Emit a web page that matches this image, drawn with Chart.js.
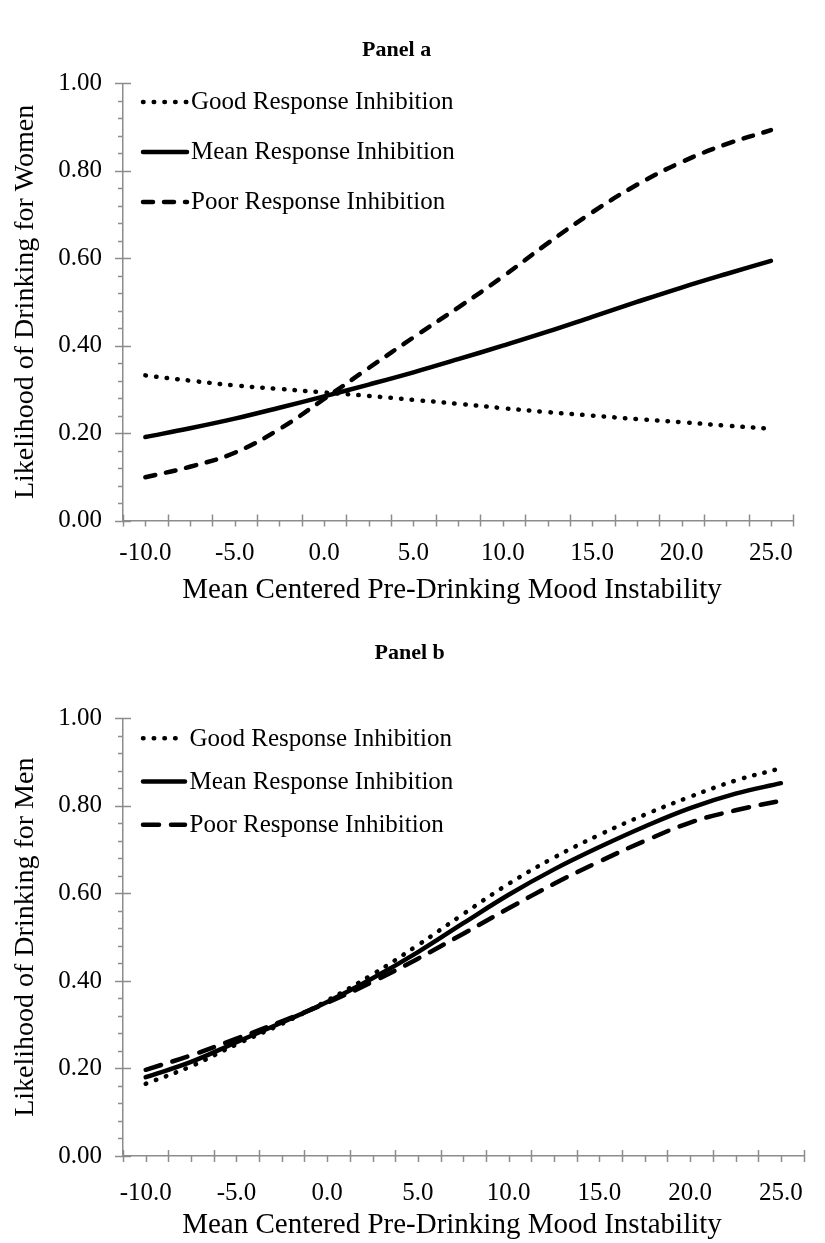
<!DOCTYPE html>
<html>
<head>
<meta charset="utf-8">
<script src="https://cdn.jsdelivr.net/npm/chart.js@4.4.1/dist/chart.umd.min.js"></script>
<style>
  html, body { margin: 0; padding: 0; background: #fff; }
  canvas { display: block; }
</style>
</head>
<body>
<canvas id="panelA" width="825" height="620"></canvas>
<canvas id="panelB" width="825" height="623"></canvas>
<script>
// ---- data ----
const seriesLabels = ['Good Response Inhibition', 'Mean Response Inhibition', 'Poor Response Inhibition'];
const xValues = [-10, -7.5, -5, -2.5, 0, 2.5, 5, 7.5, 10, 12.5, 15, 17.5, 20, 22.5, 25];

const womenGood = [0.332, 0.320, 0.309, 0.301, 0.293, 0.285, 0.276, 0.267, 0.257, 0.248, 0.240, 0.232, 0.225, 0.217, 0.210];
const womenMean = [0.191, 0.211, 0.233, 0.258, 0.284, 0.311, 0.339, 0.369, 0.400, 0.432, 0.466, 0.500, 0.533, 0.564, 0.594];
const womenPoor = [0.099, 0.123, 0.155, 0.209, 0.278, 0.349, 0.419, 0.487, 0.558, 0.634, 0.705, 0.768, 0.820, 0.861, 0.893];

const menGood = [0.165, 0.205, 0.255, 0.302, 0.355, 0.415, 0.482, 0.553, 0.622, 0.682, 0.734, 0.780, 0.821, 0.858, 0.886];
const menMean = [0.180, 0.215, 0.260, 0.305, 0.352, 0.406, 0.466, 0.532, 0.597, 0.655, 0.706, 0.753, 0.795, 0.828, 0.852];
const menPoor = [0.197, 0.230, 0.268, 0.308, 0.350, 0.398, 0.451, 0.508, 0.566, 0.622, 0.673, 0.720, 0.762, 0.790, 0.812];

const xTickValues = [-10, -5, 0, 5, 10, 15, 20, 25];
const xTickLabels = ['-10.0', '-5.0', '0.0', '5.0', '10.0', '15.0', '20.0', '25.0'];
const yTickValues = [0, 0.2, 0.4, 0.6, 0.8, 1.0];
const yTickLabels = ['0.00', '0.20', '0.40', '0.60', '0.80', '1.00'];

const xTitle = 'Mean Centered Pre-Drinking Mood Instability';

// ---- styling ----
const FONT = "'Liberation Serif', 'Times New Roman', serif";
const AXIS_GRAY = '#8c8c8c';

function pairs(xs, ys) { return xs.map((x, i) => ({ x: x, y: ys[i] })); }

// Excel-like tick marks: major cross the axis, minor outside only
const axisTicks = {
  id: 'axisTicks',
  afterDraw(chart, args, o) {
    const { ctx, chartArea: ca, scales: { x, y } } = chart;
    ctx.save();
    ctx.strokeStyle = AXIS_GRAY;
    ctx.lineWidth = 1.5;
    const nx = Math.round((x.max - x.min) / o.xMinor);
    for (let k = 0; k <= nx; k++) {
      const px = Math.round(x.getPixelForValue(x.min + k * o.xMinor)) + 0.5;
      const major = k % 2 === 0;
      ctx.beginPath();
      ctx.moveTo(px, ca.bottom - (major ? 6 : 0));
      ctx.lineTo(px, ca.bottom + 6);
      ctx.stroke();
    }
    const ny = Math.round((y.max - y.min) / o.yMinor);
    for (let k = 0; k <= ny; k++) {
      const py = Math.round(y.getPixelForValue(y.min + k * o.yMinor)) + 0.5;
      const major = k % 5 === 0;
      ctx.beginPath();
      ctx.moveTo(ca.left - (major ? 8 : 5), py);
      ctx.lineTo(ca.left + (major ? 8 : 0), py);
      ctx.stroke();
    }
    ctx.restore();
  }
};

// Legend drawn inside the plot area, in a column, from the datasets;
// x-axis title drawn under the tick labels
const insideLegend = {
  id: 'insideLegend',
  afterDraw(chart, args, o) {
    const { ctx, chartArea: ca } = chart;
    chart.data.datasets.forEach((ds, i) => {
      const yy = ca.top + o.firstRow + i * o.rowGap;
      ctx.save();
      ctx.strokeStyle = ds.borderColor;
      ctx.lineWidth = ds.borderWidth;
      ctx.lineCap = ds.borderCapStyle || 'butt';
      ctx.setLineDash(ds.borderDash || []);
      ctx.beginPath();
      ctx.moveTo(ca.left + o.sampleStart, yy);
      ctx.lineTo(ca.left + o.sampleEnd, yy);
      ctx.stroke();
      ctx.setLineDash([]);
      ctx.fillStyle = '#000';
      ctx.font = o.fontSize + 'px ' + FONT;
      ctx.textBaseline = 'middle';
      ctx.textAlign = 'left';
      ctx.fillText(ds.label, ca.left + o.textStart, yy + 1);
      ctx.restore();
    });
    ctx.save();
    ctx.fillStyle = '#000';
    ctx.font = o.xTitleSize + 'px ' + FONT;
    ctx.textBaseline = 'middle';
    ctx.textAlign = 'center';
    ctx.fillText(xTitle, o.xTitleCenter, ca.bottom + o.xTitleOffset);
    ctx.restore();
  }
};

function makeChart(id, cfg) {
  const datasets = [
    { label: seriesLabels[0], data: pairs(xValues, cfg.good), borderColor: '#000', borderWidth: 4.5,
      borderDash: [0.5, 10.2], borderCapStyle: 'round' },
    { label: seriesLabels[1], data: pairs(xValues, cfg.mean), borderColor: '#000', borderWidth: 4.5,
      borderDash: [], borderCapStyle: 'round' },
    { label: seriesLabels[2], data: pairs(xValues, cfg.poor), borderColor: '#000', borderWidth: 4.5,
      borderDash: cfg.poorDash, borderCapStyle: 'round' }
  ];
  datasets.forEach(d => { d.pointRadius = 0; d.fill = false; d.tension = 0.4; });

  return new Chart(document.getElementById(id), {
    type: 'line',
    data: { datasets: datasets },
    plugins: [axisTicks, insideLegend],
    options: {
      responsive: false,
      animation: false,
      events: [],
      layout: { padding: { left: 0, right: cfg.padRight, top: 0, bottom: 0 } },
      plugins: {
        legend: { display: false },
        tooltip: { enabled: false },
        title: {
          display: true, text: cfg.title, color: '#000',
          font: { family: FONT, size: 22, weight: 'bold' },
          padding: { top: cfg.titleTop, bottom: cfg.titleBottom }
        },
        axisTicks: { xMinor: 1.25, yMinor: 0.04 },
        insideLegend: cfg.legend
      },
      scales: {
        x: {
          type: 'linear', min: -11.25, max: 26.25,
          afterBuildTicks: s => { s.ticks = xTickValues.map(v => ({ value: v })); },
          afterFit: s => { s.height = cfg.xHeight; },
          ticks: {
            color: '#000', font: { family: FONT, size: 25 }, padding: cfg.xLabelPad,
            maxRotation: 0, autoSkip: false,
            callback: (v, i) => xTickLabels[i]
          },
          grid: { display: false, drawTicks: false },
          border: { display: true, color: AXIS_GRAY, width: 1.5 }
        },
        y: {
          min: 0, max: 1,
          afterBuildTicks: s => { s.ticks = yTickValues.map(v => ({ value: v })); },
          afterFit: s => { s.width = 123; },
          ticks: {
            color: '#000', font: { family: FONT, size: 25 }, padding: 21,
            callback: (v, i) => yTickLabels[i]
          },
          grid: { display: false, drawTicks: false },
          border: { display: true, color: AXIS_GRAY, width: 1.5 },
          title: {
            display: true, text: cfg.yTitle, color: '#000',
            font: { family: FONT, size: 28 }, padding: { top: 9, bottom: 0 }
          }
        }
      }
    }
  });
}

makeChart('panelA', {
  title: 'Panel a', yTitle: 'Likelihood of Drinking for Women',
  good: womenGood, mean: womenMean, poor: womenPoor,
  poorDash: [10, 11],
  padRight: 31.7, titleTop: 37, titleBottom: 20,
  xHeight: 99.5, xLabelPad: 18, xTitlePad: 13,
  legend: { firstRow: 18.5, rowGap: 50, sampleStart: 20, sampleEnd: 64, textStart: 68, fontSize: 25,
            xTitleSize: 29, xTitleCenter: 452, xTitleOffset: 70 }
});

makeChart('panelB', {
  title: 'Panel b', yTitle: 'Likelihood of Drinking for Men',
  good: menGood, mean: menMean, poor: menPoor,
  poorDash: [16, 12],
  padRight: 5.7, titleTop: 20, titleBottom: 52,
  xHeight: 87, xLabelPad: 22, xTitlePad: 1,
  legend: { firstRow: 19.8, rowGap: 43.3, sampleStart: 20, sampleEnd: 62, textStart: 66.5, fontSize: 25,
            xTitleSize: 29, xTitleCenter: 452, xTitleOffset: 69 }
});
</script>
</body>
</html>
